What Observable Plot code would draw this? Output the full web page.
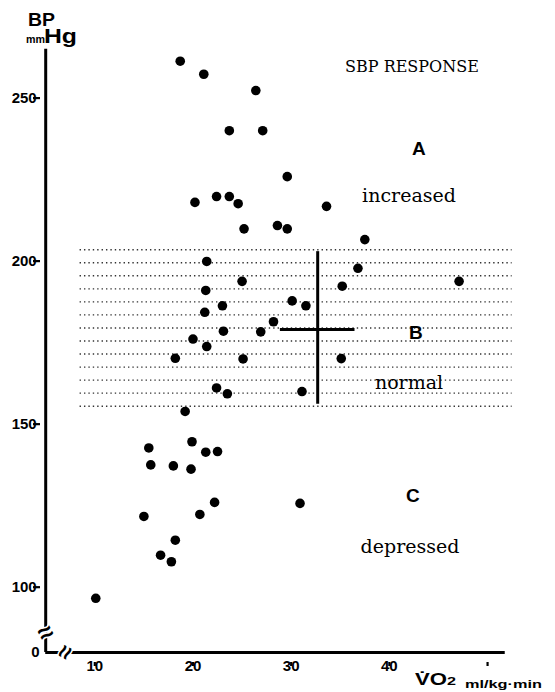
<!DOCTYPE html>
<html><head><meta charset="utf-8">
<script src="https://cdn.jsdelivr.net/npm/d3@7"></script>
<script src="https://cdn.jsdelivr.net/npm/@observablehq/plot@0.6"></script>
<style>body{margin:0;background:#fff} svg{display:block;background:#fff}</style>
</head><body><div id="chart"></div>
<script>
// VO2 (ml/kg·min) and SBP (mmHg) of each subject
const vo2 = [18.7,21.1,26.4,23.7,27.1,29.6,22.4,23.7,20.2,24.6,25.2,28.6,29.6,33.6,37.5,
  21.4,25.0,21.3,30.1,31.5,23.0,21.2,28.2,23.1,26.9,20.0,21.4,18.2,25.1,22.4,23.5,31.1,19.2,
  36.8,35.2,47.1,35.1,
  15.5,19.9,21.3,22.5,15.7,18.0,19.8,22.2,30.9,15.0,20.7,18.2,16.7,17.8,10.1];
const sbp = [261.3,257.3,252.3,240.0,240.0,225.9,219.8,219.8,218.0,217.6,209.9,210.9,209.9,216.8,206.6,
  199.9,193.8,191.0,187.8,186.3,186.3,184.3,181.4,178.5,178.3,176.1,173.8,170.2,170.0,161.1,159.3,160.0,153.9,
  197.8,192.3,193.8,170.1,
  142.7,144.6,141.4,141.6,137.5,137.2,136.2,126.0,125.7,121.7,122.3,114.4,109.8,107.8,96.6];

const xTicks = [10, 20, 30, 40, 50];
const xTickLabels = ["10", "20", "30", "40", ""];
const yTicks = [100, 150, 200, 250];
const yTickLabels = ["100", "150", "200", "250"];
const yBreakValue = 80;        // where the broken axis shows "0"
const xStart = 5;
// normal-range band (dotted lines)
const bandLines = [155.5,159.5,163.5,167.5,171.5,175.5,179.5,183.5,187.5,191.5,195.5,199.5,203.5];
const bandFrom = 8.5, bandTo = 52.5;
// mean ± SD cross
const meanVO2 = 32.7, sdVO2 = 3.8;
const meanSBP = 179.5, sdSBP = 23.4;
// region labels
const labels = [
  {x: 42.3, y: 259.7, text: "SBP RESPONSE", kind: "serif", size: 16},
  {x: 43.0, y: 234.5, text: "A", kind: "bold", size: 19},
  {x: 42.0, y: 220.1, text: "increased", kind: "serif", size: 19},
  {x: 42.7, y: 178.1, text: "B", kind: "bold", size: 19},
  {x: 42.0, y: 162.5, text: "normal", kind: "serif", size: 19},
  {x: 42.4, y: 128.1, text: "C", kind: "bold", size: 19},
  {x: 42.1, y: 112.2, text: "depressed", kind: "serif", size: 19}
];
const points = vo2.map((v, i) => ({vo2: v, sbp: sbp[i]}));
const serifLabels = labels.filter(d => d.kind === "serif");

const plot = Plot.plot({
  width: 555, height: 692,
  x: {domain: [xStart, 52], range: [45.2, 506.7]},
  y: {domain: [yBreakValue, 266], range: [651.9, 45.4]},
  style: {fontFamily: "Liberation Sans, Arial, sans-serif", color: "#000", background: "#fff"},
  marks: [
    Plot.ruleY(bandLines, {x1: bandFrom, x2: bandTo, stroke: "#333", strokeWidth: 1.4, strokeDasharray: "1.4 3"}),
    Plot.ruleX([xStart], {y1: yBreakValue, y2: 265, strokeWidth: 3}),
    Plot.ruleY([yBreakValue], {x1: xStart, x2: 51.8, strokeWidth: 3}),
    Plot.axisY({ticks: yTicks, tickSize: 7, strokeWidth: 2.2, label: null, tickFormat: () => ""}),
    Plot.axisX({ticks: xTicks, tickSize: 4, strokeWidth: 2.2, label: null, tickFormat: () => ""}),
    Plot.text(yTicks, {x: xStart, y: d => d, text: (d, i) => yTickLabels[i], dx: -9, textAnchor: "end", fontSize: 15, fontWeight: "bold", fill: "black"}),
    Plot.text(xTicks, {x: d => d, y: yBreakValue, text: (d, i) => xTickLabels[i], dy: 14, fontSize: 15, fontWeight: "bold", fill: "black"}),
    Plot.text(["0"], {x: xStart, y: yBreakValue, dx: -6, textAnchor: "end", fontSize: 15, fontWeight: "bold", fill: "black"}),
    // axis breaks
    Plot.text(["≈"], {x: xStart, y: 86, rotate: -28, fontSize: 26, fontWeight: "bold", stroke: "white", strokeWidth: 3, fill: "black", paintOrder: "stroke"}),
    Plot.text(["≈"], {x: 7.0, y: yBreakValue, rotate: -62, fontSize: 24, fontWeight: "bold", stroke: "white", strokeWidth: 3, fill: "black", paintOrder: "stroke"}),
    // cross
    Plot.ruleX([meanVO2], {y1: meanSBP - sdSBP, y2: meanSBP + sdSBP, strokeWidth: 3}),
    Plot.ruleY([meanSBP - 0.5], {x1: meanVO2 - sdVO2, x2: meanVO2 + sdVO2, strokeWidth: 3}),
    Plot.dot(points, {x: "vo2", y: "sbp", r: 4.8, fill: "black", stroke: "none"}),
    Plot.text(serifLabels, {x: "x", y: "y", text: "text", fontFamily: "DejaVu Serif", fontSize: d => d.size}),
    Plot.text(labels.filter(d => d.kind === "bold"), {x: "x", y: "y", text: "text", fontFamily: "Liberation Sans", fontWeight: "bold", fontSize: 19})
  ]
});
document.getElementById("chart").appendChild(plot);

const svg = d3.select(plot);
// axis titles
const t = (x, y, s, size, weight, len, anchor) => {
  const e = svg.append("text").attr("x", x).attr("y", y).style("font-size", size + "px")
    .style("font-weight", weight).attr("font-family", "Liberation Sans, Arial, sans-serif")
    .attr("fill", "black").attr("text-anchor", anchor || "start").text(s);
  if (len) e.attr("textLength", len).attr("lengthAdjust", "spacingAndGlyphs");
  return e;
};
t(28, 26, "BP", 18, "bold", 27);
t(26, 43, "mm", 11, "bold", 19);
t(44, 43, "Hg", 20, "bold", 33);
t(415, 685, "V\u0307O", 17, "bold", 32);
t(447, 685, "2", 11, "bold", 9);
t(465, 688, "ml/kg·min", 11, "bold", 77);
</script></body></html>
